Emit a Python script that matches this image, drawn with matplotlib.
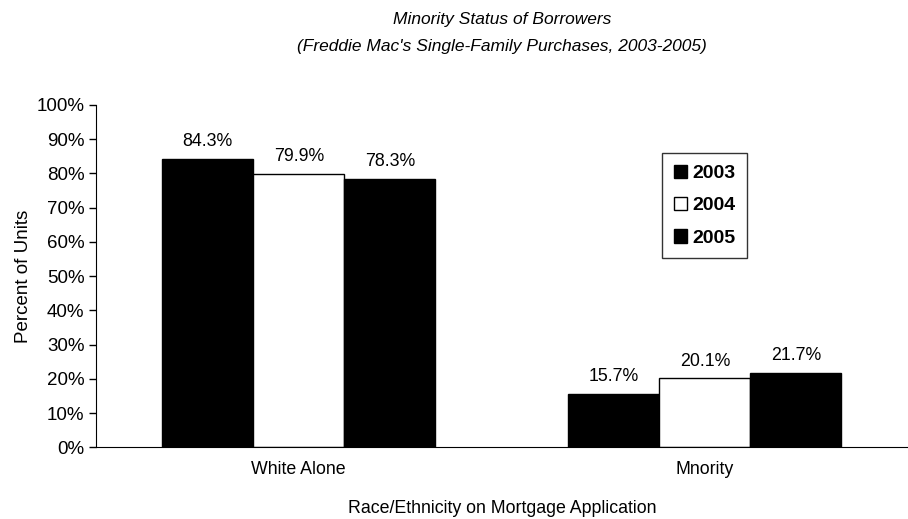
import matplotlib
matplotlib.use("Agg")
import matplotlib.pyplot as plt
import numpy as np
from matplotlib.ticker import PercentFormatter

plt.rcParams['font.family'] = ['Liberation Sans', 'DejaVu Sans']

categories = ["White Alone", "Mnority"]
years = ["2003", "2004", "2005"]
values = {
    "2003": [84.3, 15.7],
    "2004": [79.9, 20.1],
    "2005": [78.3, 21.7],
}
colors = {"2003": "black", "2004": "white", "2005": "black"}

fig = plt.figure(figsize=(9.08, 5.19), dpi=100)
ax = fig.add_axes([0.1054, 0.1382, 0.8946, 0.6595])

x = np.arange(len(categories))
w = 0.224
for i, yr in enumerate(years):
    pos = x + (i - 1) * w
    bars = ax.bar(pos, values[yr], width=w, color=colors[yr], edgecolor="black", linewidth=1, label=yr)
    for b, v in zip(bars, values[yr]):
        ax.text(b.get_x() + b.get_width() / 2, v + 2.6, f"{v:.1f}%", ha="center", va="bottom", fontsize=12.8)

ax.set_xlim(-0.5, 1.5)
ax.set_ylim(0, 100)
ax.set_yticks(np.arange(0, 101, 10))
ax.yaxis.set_major_formatter(PercentFormatter(decimals=0))
ax.set_xticks(x)
ax.set_xticklabels(categories)
ax.tick_params(axis="x", length=0, pad=10, labelsize=12.8)
ax.tick_params(axis="y", length=5, width=1, direction="out", labelsize=13.5, pad=3)
ax.spines["top"].set_visible(False)
ax.spines["right"].set_visible(False)

ax.set_ylabel("Percent of Units", fontsize=13.5, labelpad=3)
ax.set_xlabel("Race/Ethnicity on Mortgage Application", fontsize=12.8, labelpad=16)

fig.text(0.553, 0.963, "Minority Status of Borrowers", ha="center", va="center", style="italic", fontsize=12.5)
fig.text(0.553, 0.911, "(Freddie Mac's Single-Family Purchases, 2003-2005)", ha="center", va="center", style="italic", fontsize=12.5)

leg = ax.legend(loc="upper left", bbox_to_anchor=(662 / 908, 1 - 153 / 519), bbox_transform=fig.transFigure,
                prop={"weight": "bold", "size": 14}, frameon=True, fancybox=False, edgecolor="black",
                handlelength=0.7, handleheight=0.7, handletextpad=0.25, labelspacing=0.75, borderpad=0.6,
                borderaxespad=0)
leg.get_frame().set_linewidth(1)

fig.savefig("out.png", dpi=100)
